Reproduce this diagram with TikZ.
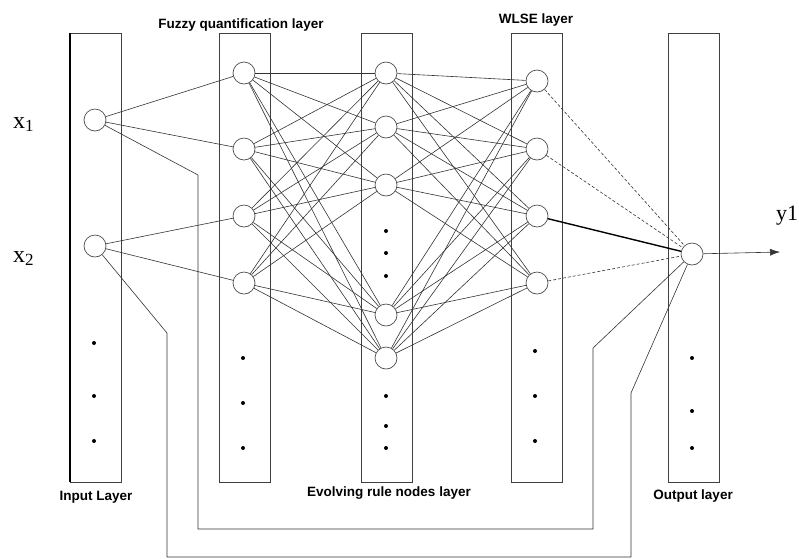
\documentclass[tikz,border=0pt]{standalone}
\usepackage{fontspec}
\usetikzlibrary{arrows.meta}
\newfontfamily\labfont{Liberation Sans}
\newfontfamily\serfont{Liberation Serif}
\begin{document}
\begin{tikzpicture}[x=1pt,y=-1pt,
  layerbox/.style={draw=black!75, line width=0.9pt},
  neuron/.style={circle, draw=black!70, line width=0.7pt, minimum size=22pt, inner sep=0pt, fill=white},
  dotn/.style={circle, fill=black, inner sep=0pt, minimum size=4pt},
  link/.style={draw=black!80, line width=0.6pt},
  dlink/.style={link, dash pattern=on 3pt off 2pt},
  tlink/.style={draw=black, line width=1.4pt},
  lab/.style={font=\labfont\bfseries\fontsize{13.5}{14}\selectfont, inner sep=0pt, anchor=base},
  var/.style={font=\serfont\fontsize{24}{24}\selectfont, inner sep=0pt, anchor=base west}]
\useasboundingbox (0,0) rectangle (799,558);
% layer boxes
\draw[layerbox] (70,33) rectangle (121,482);
\draw[black, line width=1.8pt] (70,33) -- (70,482);
\draw[layerbox] (219,33) rectangle (270,482);
\draw[layerbox] (361,33) rectangle (412,482);
\draw[layerbox] (511,33) rectangle (562,482);
\draw[layerbox] (668,33) rectangle (719,482);
% neurons
\node[neuron] (i1) at (95,120) {};
\node[neuron] (i2) at (95,246) {};
\node[neuron] (f1) at (244,73) {};
\node[neuron] (f2) at (244,149) {};
\node[neuron] (f3) at (244,216) {};
\node[neuron] (f4) at (244,283) {};
\node[neuron] (r1) at (386,73) {};
\node[neuron] (r2) at (386,127) {};
\node[neuron] (r3) at (386,185) {};
\node[neuron] (r4) at (386,315) {};
\node[neuron] (r5) at (386,358) {};
\node[neuron] (w1) at (537,81) {};
\node[neuron] (w2) at (537,149) {};
\node[neuron] (w3) at (537,216) {};
\node[neuron] (w4) at (537,283) {};
\node[neuron] (o) at (692,254) {};
% dots
\node[dotn] (di1) at (94,343) {};
\node[dotn] (di2) at (94,396) {};
\node[dotn] (di3) at (94,441) {};
\node[dotn] (df1) at (243,358) {};
\node[dotn] (df2) at (243,403) {};
\node[dotn] (df3) at (243,448) {};
\node[dotn] (dr1) at (386,231) {};
\node[dotn] (dr2) at (386,253) {};
\node[dotn] (dr3) at (386,276) {};
\node[dotn] (dr4) at (386,396) {};
\node[dotn] (dr5) at (386,426) {};
\node[dotn] (dr6) at (386,448) {};
\node[dotn] (dw1) at (535,351) {};
\node[dotn] (dw2) at (535,396) {};
\node[dotn] (dw3) at (535,441) {};
\node[dotn] (do1) at (692,358) {};
\node[dotn] (do2) at (692,411) {};
\node[dotn] (do3) at (692,448) {};
% input to fuzzy
\draw[link] (i1) -- (f1);
\draw[link] (i1) -- (f2);
\draw[link] (i2) -- (f3);
\draw[link] (i2) -- (f4);
% fuzzy to rule
\foreach \a in {f1,f2,f3,f4}{\foreach \b in {r1,r2,r3,r4,r5}{\draw[link] (\a) -- (\b);}}
% rule to wlse
\foreach \a in {r1,r2,r3,r4,r5}{\foreach \b in {w1,w2,w3,w4}{\draw[link] (\a) -- (\b);}}
% wlse to output
\draw[dlink] (w1) -- (o);
\draw[dlink] (w2) -- (o);
\draw[tlink] (w3) -- (o);
\draw[dlink] (w4) -- (o);
% feedback paths
\coordinate (p1) at (198,175);
\coordinate (p2) at (198,529);
\coordinate (p3) at (593,529);
\coordinate (p4) at (593,348);
\draw[link] (i1) -- (p1) -- (p2) -- (p3) -- (p4) -- (o);
\coordinate (q1) at (167,333);
\coordinate (q2) at (167,557);
\coordinate (q3) at (631,557);
\coordinate (q4) at (631,393);
\draw[link] (i2) -- (q1) -- (q2) -- (q3) -- (q4) -- (o);
% output arrow
\coordinate (yout) at (780,252);
\draw[link, -{Latex[length=10pt,width=7pt]}] (o) -- (yout);
% labels
\node[var] (lx1) at (13,128) {x\raisebox{-3pt}{\fontsize{17}{17}\selectfont 1}};
\node[var] (lx2) at (13,262) {x\raisebox{-3pt}{\fontsize{17}{17}\selectfont 2}};
\node[var, font=\serfont\fontsize{22}{22}\selectfont] (ly1) at (776,220) {y1};
\node[lab] (tf) at (241,28) {Fuzzy quantification layer};
\node[lab] (tw) at (536,23) {WLSE layer};
\node[lab] (ti) at (96,500) {Input Layer};
\node[lab] (tr) at (389,496) {Evolving rule nodes layer};
\node[lab] (to) at (693,499) {Output layer};
\end{tikzpicture}
\end{document}
